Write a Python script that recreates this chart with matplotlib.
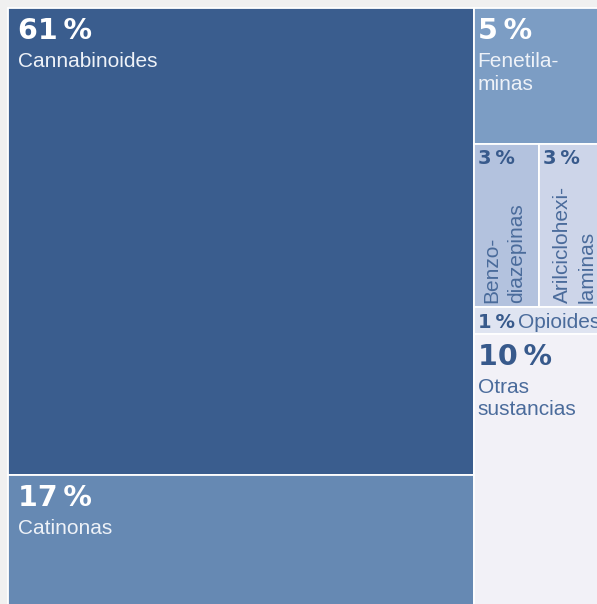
import matplotlib.pyplot as plt
from matplotlib.patches import Rectangle

# Datos del treemap (porcentajes)
nombres = ["Cannabinoides", "Catinonas", "Fenetila-\nminas", "Benzo-\ndiazepinas",
           "Arilciclohexi-\nlaminas", "Opioides", "Otras\nsustancias"]
porcentajes = [61, 17, 5, 3, 3, 1, 10]
columna = [0, 0, 1, 1, 1, 1, 1]
fila = [0, 1, 0, 1, 1, 2, 3]

colores = ["#3a5d8e", "#6689b3", "#7c9dc4", "#b3c2de", "#cdd5e9", "#dfe4f1", "#f2f1f7"]
fondo = "#f0f0f0"

W, H = 597, 604
fig = plt.figure(figsize=(W / 100, H / 100), dpi=100, facecolor=fondo)
ax = fig.add_axes([0, 0, 1, 1])
ax.set_facecolor(fondo)
# el treemap ocupa x 8..605 px, y 8..605 px (recortado a la derecha y abajo)
ax.set_xlim(-8 / 597, (W - 8) / 597)
ax.set_ylim((H - 8) / 597, -8 / 597)
ax.axis("off")

# calcular rectangulos a partir de los valores
total = sum(porcentajes)
cajas = []
x0 = 0
for c in sorted(set(columna)):
    idx_c = [i for i in range(len(porcentajes)) if columna[i] == c]
    suma_c = sum(porcentajes[i] for i in idx_c)
    ancho = suma_c / total
    y0 = 0
    for f in sorted(set(fila[i] for i in idx_c)):
        idx_f = [i for i in idx_c if fila[i] == f]
        suma_f = sum(porcentajes[i] for i in idx_f)
        alto = suma_f / suma_c
        xx = x0
        for i in idx_f:
            w = ancho * porcentajes[i] / suma_f
            cajas.append((i, xx, y0, w, alto))
            xx += w
        y0 += alto
    x0 += ancho

cajas.sort()
for i, x, y, w, h in cajas:
    ax.add_patch(Rectangle((x, y), w, h, facecolor=colores[i], edgecolor="white", lw=1.3))

oscuro = [True, True, True, False, False, False, False]
pct_font = dict(family="DejaVu Sans", weight="bold")
lab_font = dict(family="Liberation Sans")

for i, x, y, w, h in cajas:
    c_pct = "white" if oscuro[i] else "#385a8c"
    c_lab = "#eef2f8" if oscuro[i] else "#4a6b9b"
    txt_pct = f"{porcentajes[i]}\u2009%"
    pad = 10 if columna[i] == 0 else 4
    if i in (3, 4):
        # cajas pequenas con texto vertical
        ax.annotate(txt_pct, (x, y), xytext=(4, -5), textcoords="offset pixels",
                    ha="left", va="top", fontsize=14, color=c_pct, **pct_font)
        dx = 9 if i == 3 else 14
        ax.annotate(nombres[i], (x, y + h), xytext=(dx, 4), textcoords="offset pixels",
                    ha="left", va="bottom", rotation=90, fontsize=15,
                    color=c_lab, linespacing=1.36, **lab_font)
    elif i == 5:
        ax.annotate(txt_pct, (x, y), xytext=(4, -6), textcoords="offset pixels",
                    ha="left", va="top", fontsize=14, color=c_pct, **pct_font)
        ax.annotate(nombres[i], (x, y), xytext=(44, -6), textcoords="offset pixels",
                    ha="left", va="top", fontsize=15, color=c_lab, **lab_font)
    else:
        ax.annotate(txt_pct, (x, y), xytext=(pad, -9), textcoords="offset pixels",
                    ha="left", va="top", fontsize=20.5, color=c_pct, **pct_font)
        ax.annotate(nombres[i], (x, y), xytext=(pad, -44), textcoords="offset pixels",
                    ha="left", va="top", fontsize=15, color=c_lab,
                    linespacing=1.25, **lab_font)

fig.savefig("out.png", dpi=100, facecolor=fondo)
